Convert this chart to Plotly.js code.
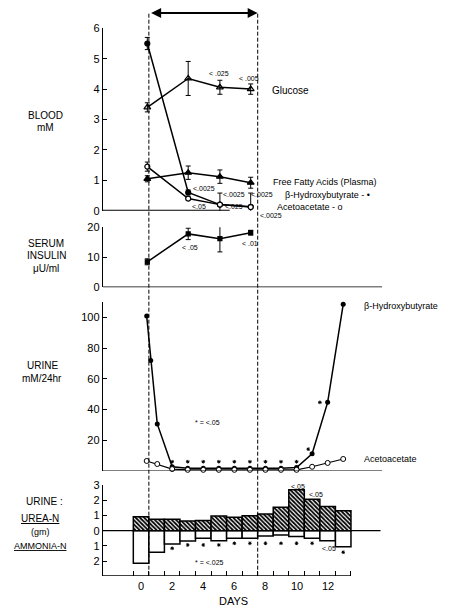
<!DOCTYPE html>
<html><head><meta charset="utf-8">
<script src="https://cdn.plot.ly/plotly-3.0.1.min.js"></script>
<style>html,body{margin:0;padding:0;background:#fff}#chart{width:456px;height:609px}</style>
</head><body><div id="chart"></div><script>
// ---- Blood (mM) ----
const bloodDays = [0.4, 3.03, 5.07, 7.05];
const glucose = [3.4, 4.35, 4.06, 4.0];
const glucoseErr = [0.15, 0.56, 0.23, 0.17];
const ffa = [1.05, 1.25, 1.12, 0.92];
const ffaErr = [0.1, 0.22, 0.22, 0.18];
const bohbBlood = [5.5, 0.6, 0.2, 0.13];
const bohbBloodErr = [0.2, 0.08, 0.38, 0.45];
const acacBlood = [1.45, 0.4, 0.2, 0.12];
const acacBloodErr = [0.15, 0.05, 0.05, 0.05];
// ---- Serum insulin (uU/ml) ----
const insulinDays = [0.4, 3.03, 5.07, 7.05];
const insulin = [8.5, 17.8, 16.2, 18.2];
const insulinErr = [1, 1.9, 4.4, 0.8];
// ---- Urine (mM/24hr) ----
const urineBohbDays = [0.36, 0.62, 1.04, 2, 3, 4, 5, 6, 7, 8, 9, 10, 11, 12, 13];
const urineBohb = [101, 72, 30.5, 2.5, 1.5, 1.5, 1.5, 1.5, 1.5, 1.5, 1.5, 2, 11, 44.6, 108.7];
const urineAcacDays = [0.36, 1.04, 2, 3, 4, 5, 6, 7, 8, 9, 10, 11, 12, 13];
const urineAcac = [6.3, 4.3, 1, 0.5, 0.5, 0.5, 0.5, 0.5, 0.5, 0.5, 0.5, 2.5, 5, 7.6];
const urineSigDays = [2, 3, 4, 5, 6, 7, 8, 9, 10];
const urineSigAbove = [5.8, 5.8, 5.8, 5.8, 5.8, 5.8, 5.8, 5.8, 5.8];
const urineSigBelow = [-3.3, -3.3, -3.3, -3.3, -3.3, -3.3, -3.3, -3.3, -3.3];
const urineSigExtraDays = [10.75, 11.5];
const urineSigExtra = [14, 44.6];
// ---- Urine urea-N / ammonia-N (gm) ----
const barDays = [0, 1, 2, 3, 4, 5, 6, 7, 8, 9, 10, 11, 12, 13];
const ureaN = [0.92, 0.75, 0.75, 0.64, 0.66, 0.97, 0.88, 0.98, 1.1, 1.54, 2.68, 2.07, 1.58, 1.3];
const ammoniaN = [2.15, 1.42, 0.88, 0.68, 0.5, 0.66, 0.5, 0.5, 0.35, 0.28, 0.39, 0.5, 0.66, 1.05];
const barSigDays = [2, 3, 4, 5, 6, 7, 8, 9, 10, 11, 13];
const barSigY = [-1.16, -0.94, -0.94, -0.94, -0.83, -0.83, -0.83, -0.83, -0.83, -0.83, -1.42];
const dayTickVals = [-0.5, 0.5, 1.5, 2.5, 3.5, 4.5, 5.5, 6.5, 7.5, 8.5, 9.5, 10.5, 11.5, 12.5, 13.5];
const dayLabels = [0, 2, 4, 6, 8, 10, 12];

const W = 456, H = 609;
const px = x => x / W;
const py = y => 1 - y / H;
const FONT = 'Liberation Sans, Arial, sans-serif';
const K = '#000';

function errLine(xs, ys, errs, yax, sym, msize, fill) {
  return {x: xs, y: ys, yaxis: yax, mode: 'lines+markers', type: 'scatter',
    line: {color: K, width: 1.5},
    marker: {symbol: sym, size: msize, color: fill || K, line: {color: K, width: 1.2}},
    error_y: {type: 'data', array: errs, visible: true, color: K, thickness: 1, width: 2.5},
    cliponaxis: false, showlegend: false, hoverinfo: 'skip'};
}
const star = {symbol: 'asterisk-open', size: 3, color: K, line: {color: K, width: 1}};

const traces = [
  errLine(bloodDays, glucose, glucoseErr, 'y', 'triangle-up-open', 6),
  errLine(bloodDays, ffa, ffaErr, 'y', 'triangle-up', 6),
  errLine(bloodDays, bohbBlood, bohbBloodErr, 'y', 'circle', 5),
  errLine(bloodDays, acacBlood, acacBloodErr, 'y', 'circle', 5, '#fff'),
  errLine(insulinDays, insulin, insulinErr, 'y2', 'square', 4),
  {x: urineBohbDays, y: urineBohb, yaxis: 'y3', mode: 'lines+markers', type: 'scatter',
   line: {color: K, width: 1.5}, marker: {symbol: 'circle', size: 5, color: K},
   cliponaxis: false, showlegend: false, hoverinfo: 'skip'},
  {x: urineAcacDays, y: urineAcac, yaxis: 'y3', mode: 'lines+markers', type: 'scatter',
   line: {color: K, width: 1.2}, marker: {symbol: 'circle', size: 5, color: '#fff', line: {color: K, width: 1}},
   cliponaxis: false, showlegend: false, hoverinfo: 'skip'},
  {x: urineSigDays.concat(urineSigDays, urineSigExtraDays), y: urineSigAbove.concat(urineSigBelow, urineSigExtra),
   yaxis: 'y3', mode: 'markers', type: 'scatter', marker: star,
   cliponaxis: false, showlegend: false, hoverinfo: 'skip'},
  {x: barDays, y: ureaN, yaxis: 'y4', type: 'bar', width: 1,
   marker: {color: '#fff', line: {color: K, width: 1.5},
            pattern: {shape: '\\', fgcolor: '#000', bgcolor: '#fff', size: 3, solidity: 0.6}},
   showlegend: false, hoverinfo: 'skip'},
  {x: barDays, y: ammoniaN.map(v => -v), yaxis: 'y4', type: 'bar', width: 1,
   marker: {color: '#fff', line: {color: K, width: 1.5}},
   showlegend: false, hoverinfo: 'skip'},
  {x: barSigDays, y: barSigY, yaxis: 'y4', mode: 'markers', type: 'scatter', marker: star,
   cliponaxis: false, showlegend: false, hoverinfo: 'skip'}
];

const yBase = {showline: true, linecolor: K, linewidth: 1.2, ticks: 'inside', ticklen: 4,
  tickcolor: K, tickwidth: 1, showgrid: false, zeroline: false, anchor: 'x',
  tickfont: {family: FONT, size: 11, color: K}, fixedrange: true};

const X0 = -2.45, X1 = 15.56;
const layout = {
  width: W, height: H, margin: {l: 0, r: 0, t: 0, b: 0, autoexpand: false},
  paper_bgcolor: '#fff', plot_bgcolor: 'rgba(0,0,0,0)',
  font: {family: FONT, color: K},
  barmode: 'overlay', bargap: 0,
  xaxis: {domain: [px(103), px(383)], range: [X0, X1], anchor: 'y4',
          showline: false, showgrid: false, zeroline: false,
          tickmode: 'array', tickvals: dayTickVals, ticktext: dayTickVals.map(() => ''),
          ticks: 'inside', ticklen: 5, tickcolor: K, tickwidth: 1, fixedrange: true},
  yaxis: Object.assign({}, yBase, {domain: [py(210.7), py(28.3)], range: [0, 6],
          tickvals: [0, 1, 2, 3, 4, 5, 6]}),
  yaxis2: Object.assign({}, yBase, {domain: [py(287.3), py(227.3)], range: [0, 20],
          tickvals: [0, 10, 20]}),
  yaxis3: Object.assign({}, yBase, {domain: [py(470.6), py(301.7)], range: [0, 110.4],
          tickvals: [20, 40, 60, 80, 100]}),
  yaxis4: Object.assign({}, yBase, {domain: [py(575.7), py(485)], range: [-2.96, 3],
          tickvals: [-2, -1, 0, 1, 2, 3], ticktext: ['2', '1', '0', '1', '2', '3']}),
  shapes: [],
  annotations: []
};

// axis base lines
const hl = (yref, yv, xa, xb, w) => ({type: 'line', xref: 'x', yref: yref, x0: xa, x1: xb, y0: yv, y1: yv,
  line: {color: K, width: w || 1.5}});
layout.shapes.push(hl('y', 0, X0, 5.7, 2));
layout.shapes.push(hl('y2', 0, X0, 15.5, 1.5));
layout.shapes.push(hl('y3', 0, X0, 15.5, 1.2));
layout.shapes.push(hl('y4', 0, X0, 15.4, 1.2));
layout.shapes.push(hl('y4', -2.96, X0, 13.5, 1.2));
// dashed period lines
[0.5, 7.5].forEach(d => layout.shapes.push({type: 'line', xref: 'x', yref: 'paper', x0: d, x1: d,
  y0: py(575.7), y1: py(13), line: {color: K, width: 1, dash: '4px,2px'}}));
// double arrow
layout.annotations.push({xref: 'x', yref: 'paper', axref: 'x', ayref: 'paper', x: 7.5, y: py(13),
  ax: 0.55, ay: py(13), text: '', showarrow: true, arrowside: 'end+start', arrowhead: 2,
  arrowsize: 1, arrowwidth: 2, arrowcolor: K});

function txt(x, y, t, size, anchor, extra) {
  layout.annotations.push(Object.assign({xref: 'paper', yref: 'paper', x: px(x), y: py(y), text: t,
    showarrow: false, xanchor: anchor || 'left', yanchor: 'middle',
    font: {family: FONT, size: size, color: K}}, extra || {}));
}
// day tick labels
dayLabels.forEach(d => layout.annotations.push({xref: 'x', yref: 'paper', x: d, y: py(586), text: String(d),
  showarrow: false, xanchor: 'center', yanchor: 'middle', font: {family: FONT, size: 11, color: K}}));
txt(233, 601, 'DAYS', 11, 'center');
// left labels
txt(45, 115, 'BLOOD', 10, 'center');
txt(45, 128, 'mM', 10, 'center');
txt(46, 244, 'SERUM', 10, 'center');
txt(46, 256, 'INSULIN', 10, 'center');
txt(46, 268, 'μU/ml', 10, 'center');
txt(42, 365, 'URINE', 10, 'center');
txt(42, 378, 'mM/24hr', 10, 'center');
txt(44, 501, 'URINE :', 10, 'center');
txt(40, 518, '<u>UREA-N</u>', 10, 'center');
txt(40, 532, '(gm)', 9, 'center');
txt(40, 546, '<u>AMMONIA-N</u>', 9, 'center');
// series labels
txt(270, 90, 'Glucose', 10);
txt(271, 182, 'Free Fatty Acids (Plasma)', 9);
txt(283, 195, 'β-Hydroxybutyrate - •', 9);
txt(275, 207.5, 'Acetoacetate - o', 9);
txt(362, 306, 'β-Hydroxybutyrate', 9);
txt(362, 459, 'Acetoacetate', 9);
// significance labels
const S = 7;
txt(207, 74, '&lt; .025', S);
txt(237, 78, '&lt; .005', S);
txt(191, 188, '&lt;.0025', S);
txt(190, 207, '&lt;.05', S);
txt(221, 195, '&lt;.0025', S);
txt(223, 207, '&lt;.025', S);
txt(249, 195, '&lt;.0025', S);
txt(258, 215.5, '&lt;.0025', S);
txt(180, 247, '&lt; .05', S);
txt(240, 243, '&lt; .01', S);
txt(193, 422, '* = &lt;.05', S);
txt(289, 486, '&lt;.05', S);
txt(307, 494, '&lt;.05', S);
txt(320, 548, '&lt;.05', S);
txt(193, 562, '* = &lt;.025', S);

Plotly.newPlot('chart', traces, layout, {staticPlot: true, displayModeBar: false});
</script></body></html>
